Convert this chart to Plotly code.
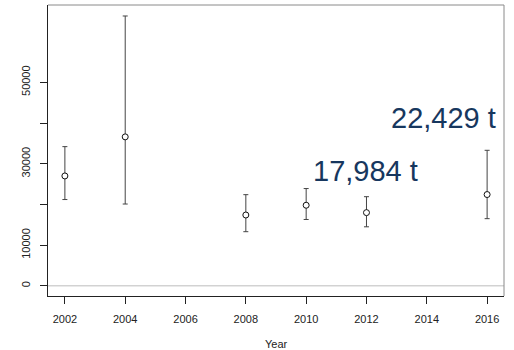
import plotly.graph_objects as go

# Survey years and biomass estimates (t) with interval bounds
years = [2002, 2004, 2008, 2010, 2012, 2016]
estimate = [27000, 36600, 17400, 19800, 17984, 22429]
upper = [34200, 66300, 22400, 23900, 21900, 33300]
lower = [21200, 20100, 13300, 16300, 14500, 16500]

x_ticks = [2002, 2004, 2006, 2008, 2010, 2012, 2014, 2016]
y_ticks = [0, 10000, 20000, 30000, 40000, 50000]
y_tick_text = ["0", "10000", "", "30000", "", "50000"]

# Highlighted estimates shown as large callouts
callout_text = ["17,984 t", "22,429 t"]

err_plus = [u - e for u, e in zip(upper, estimate)]
err_minus = [e - l for e, l in zip(estimate, lower)]

axis_font = dict(family="Liberation Sans, Arial, sans-serif", size=11, color="#222222")

fig = go.Figure()

# Reference line at zero
fig.add_hline(y=0, line=dict(color="#bdbdbd", width=1))

fig.add_trace(go.Scatter(
    x=years, y=estimate, mode="markers",
    marker=dict(symbol="circle", size=6, color="white",
                line=dict(color="#111111", width=1)),
    error_y=dict(type="data", symmetric=False, array=err_plus,
                 arrayminus=err_minus, color="#444444", thickness=1, width=2.5),
    showlegend=False, cliponaxis=False,
))

fig.update_layout(
    width=514, height=350,
    margin=dict(l=48, r=10, t=5, b=54),
    paper_bgcolor="white", plot_bgcolor="white",
    xaxis=dict(range=[2001.44, 2016.56], tickvals=x_ticks, showgrid=False,
               zeroline=False, showline=True, linecolor="#222222", linewidth=1,
               ticks="outside", ticklen=7, tickcolor="#222222",
               tickfont=axis_font, ticklabelstandoff=6),
    yaxis=dict(range=[-2500, 69000], tickvals=y_ticks, ticktext=y_tick_text,
               tickangle=-90, showgrid=False, zeroline=False, showline=True,
               linecolor="#222222", linewidth=1, ticks="outside", ticklen=7,
               tickcolor="#222222", tickfont=axis_font, ticklabelstandoff=6),
)

# Top and right sides of the plot frame
fig.add_shape(type="line", xref="paper", yref="paper", x0=0, x1=1, y0=1, y1=1,
              line=dict(color="#8a8a8a", width=1))
fig.add_shape(type="line", xref="paper", yref="paper", x0=1, x1=1, y0=0, y1=1,
              line=dict(color="#8a8a8a", width=1))

# X axis title
fig.add_annotation(text="Year", xref="paper", yref="paper", x=0.5, y=-0.165,
                   xanchor="center", yanchor="middle", showarrow=False,
                   font=axis_font)

# Callouts
callout_font = dict(family="Liberation Sans, Arial, sans-serif", size=29, color="#17375E")
fig.add_annotation(text=callout_text[0], xref="paper", yref="paper",
                   x=(311 - 48) / 456.5, y=(296 - 171) / 291,
                   xanchor="left", yanchor="middle", showarrow=False, font=callout_font)
fig.add_annotation(text=callout_text[1], xref="paper", yref="paper",
                   x=(389.5 - 48) / 456.5, y=(296 - 118) / 291,
                   xanchor="left", yanchor="middle", showarrow=False, font=callout_font)

fig.write_html("out.html")
